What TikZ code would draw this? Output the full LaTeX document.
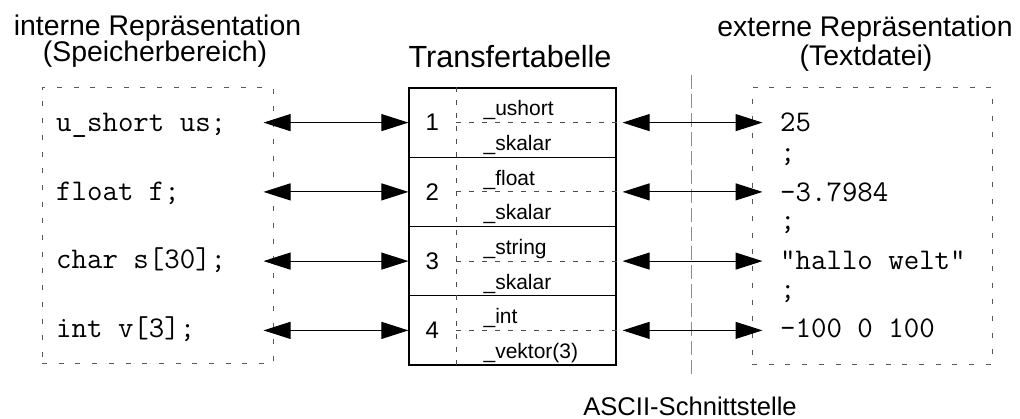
\documentclass[tikz,border=0pt]{standalone}
\usepackage{fontspec}
\setmainfont{Liberation Sans}
\usetikzlibrary{arrows.meta}

\begin{document}
\begin{tikzpicture}
  [
    x=1pt, y=-1pt,
    ttl/.style={font=\fontsize{28.4}{30}\selectfont, anchor=base, inner sep=0pt},
    code/.style={font=\ttfamily\fontsize{30}{32}\selectfont, anchor=base west, inner sep=0pt},
    lbl/.style={font=\fontsize{21}{23}\selectfont, anchor=base west, inner sep=0pt},
    num/.style={font=\fontsize{24}{26}\selectfont, inner sep=0pt},
    rowbox/.style={draw, line width=1.2pt, minimum width=207pt, minimum height=69.25pt, inner sep=0pt},
    area/.style={draw=black!65, line width=1pt, dash pattern=on 5pt off 11.7pt, inner sep=0pt},
    sep/.style={draw=black!70, line width=0.9pt, dash pattern=on 5pt off 8pt},
    iface/.style={draw=black!45, line width=1pt, dash pattern=on 14pt off 5pt},
    arr/.style={line width=1pt, {Triangle[length=27pt,width=17pt]}-{Triangle[length=27pt,width=17pt]}}
  ]
  \useasboundingbox (0,0) rectangle (1020,419);
  % headings
  \node [ttl] (IntA) at (157.5, 35.7) {interne Repräsentation};
  \node [ttl] (IntB) at (155.0, 61.7) {(Speicherbereich)};
  \node [ttl, font=\fontsize{30.6}{32}\selectfont] (Tab) at (510, 68) {Transfertabelle};
  \node [ttl] (ExtA) at (865, 37) {externe Repräsentation};
  \node [ttl] (ExtB) at (866, 66) {(Textdatei)};
  % areas
  \node [area, minimum width=231pt, minimum height=276pt] (L) at (157.5, 226) {};
  \node [area, minimum width=240pt, minimum height=277pt] (R) at (872, 226.5) {};
  % interface line
  \coordinate (S1) at (691, 75);
  \coordinate (S2) at (691, 378);
  \draw [iface] (S1) -- (S2);
  \node [ttl, font=\fontsize{25.6}{27}\selectfont] (Asc) at (690, 415) {ASCII-Schnittstelle};
  % table rows
  \node [rowbox] (R1) at (512.5, 122.6) {};
  \node [rowbox] (R2) at (512.5, 191.9) {};
  \node [rowbox] (R3) at (512.5, 261.1) {};
  \node [rowbox] (R4) at (512.5, 330.4) {};
  \draw [sep] ([xshift=48pt]R1.north west) -- ([xshift=48pt]R4.south west);
  \foreach \i/\typ/\kind in {1/ushort/skalar, 2/float/skalar, 3/string/skalar, 4/int/vektor(3)}
  {
    \node [num] (N\i) at ([xshift=24pt]R\i.west) {\i};
    \draw [sep] ([xshift=48pt]R\i.west) -- (R\i.east);
    \node [lbl] (T\i) at ([xshift=75pt, yshift=6.6pt]R\i.west) {\_\typ};
    \node [lbl] (K\i) at ([xshift=75pt, yshift=-28pt]R\i.west) {\_\kind};
    \draw [arr] ([xshift=-10pt]L.east |- R\i.west) -- (R\i.west);
    \draw [arr] ([xshift=6pt]R\i.east) -- ([xshift=11pt]R.west |- R\i.east);
  }
  % memory side
  \node [code] (C1) at (56, 131.7) {u\_short us;};
  \node [code] (C2) at (56, 200.7) {float f;};
  \node [code] (C3) at (56, 268.5) {char s[30];};
  \node [code] (C4) at (56, 337.5) {int v[3];};
  % text file side
  \node [code] (F1) at (780, 131.7) {25};
  \node [code] (F2) at (780, 162)   {;};
  \node [code] (F3) at (780, 201.7) {-3.7984};
  \node [code] (F4) at (780, 230)   {;};
  \node [code] (F5) at (780, 270)   {"hallo welt"};
  \node [code] (F6) at (780, 299)   {;};
  \node [code] (F7) at (780, 338)   {-100 0 100};
\end{tikzpicture}
\end{document}
